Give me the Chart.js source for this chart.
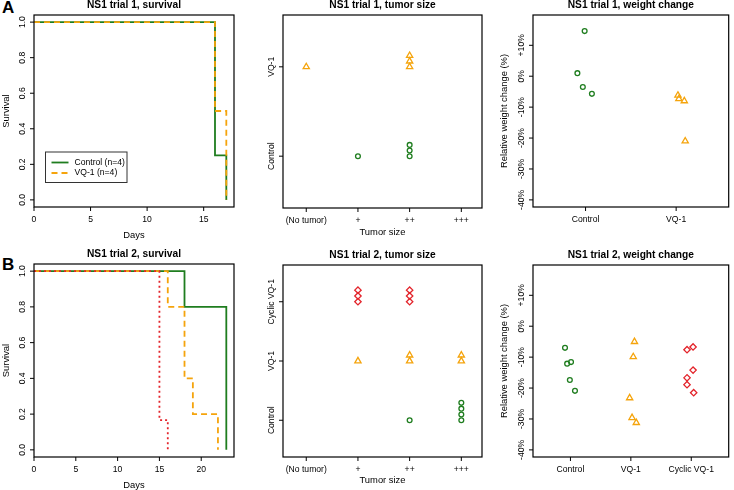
<!DOCTYPE html>
<html><head><meta charset="utf-8">
<script src="https://cdn.jsdelivr.net/npm/chart.js@4"></script>
<style>
body{margin:0;background:#fff;width:734px;height:490px;position:relative;overflow:hidden}
canvas{position:absolute}
.lbl{position:absolute;font:bold 17px "Liberation Sans",Arial,sans-serif;line-height:17px;color:#000}
</style></head><body>
<div class="lbl" style="left:2px;top:-1px">A</div>
<div class="lbl" style="left:2px;top:256px">B</div>
<canvas id="a1"></canvas><canvas id="a2"></canvas><canvas id="a3"></canvas>
<canvas id="b1"></canvas><canvas id="b2"></canvas><canvas id="b3"></canvas>
<script>
// ---------- data ----------
const survTicks = [0, 0.2, 0.4, 0.6, 0.8, 1.0];
const survTickLabels = ['0.0', '0.2', '0.4', '0.6', '0.8', '1.0'];
const dayTicks1 = [0, 5, 10, 15];
const dayTicks2 = [0, 5, 10, 15, 20];

// trial 1 survival (Kaplan-Meier steps: event days and survival after)
const t1CtrlDays = [0, 16, 17];
const t1CtrlSurv = [1, 0.25, 0];
const t1VqDays = [0, 16, 17];
const t1VqSurv = [1, 0.5, 0];
// trial 2 survival
const t2CtrlDays = [0, 18, 23];
const t2CtrlSurv = [1, 0.8, 0];
const t2VqDays = [0, 16, 18, 19, 22];
const t2VqSurv = [1, 0.8, 0.4, 0.2, 0];
const t2CycDays = [0, 15, 16];
const t2CycSurv = [1, 0.1667, 0];

const tumorCats = ['(No tumor)', '+', '++', '+++'];
const t1Groups = ['Control', 'VQ-1'];
const t2Groups = ['Control', 'VQ-1', 'Cyclic VQ-1'];
// tumor size per animal
const t1TumorCtrl = ['+', '++', '++', '++'];
const t1TumorVq = ['(No tumor)', '++', '++', '++'];
const t2TumorCtrl = ['++', '+++', '+++', '+++', '+++'];
const t2TumorVq = ['+', '++', '++', '+++', '+++'];
const t2TumorCyc = ['+', '+', '+', '++', '++', '++'];

// weight change (%) per animal, with horizontal jitter
const wtTicks = [10, 0, -10, -20, -30, -40];
const wtTickLabels = ['+10%', '0%', '-10%', '-20%', '-30%', '-40%'];
const t1WtCtrl = [14.6, 1.0, -3.5, -5.7];
const t1WtCtrlJit = [-0.01, -0.09, -0.03, 0.07];
const t1WtVq = [-6.2, -7.3, -8.0, -21.0];
const t1WtVqJit = [0.02, 0.03, 0.09, 0.10];
const t2WtCtrl = [-7.0, -12.1, -11.6, -17.4, -20.9];
const t2WtCtrlJit = [-0.09, -0.055, 0.01, -0.01, 0.075];
const t2WtVq = [-5.0, -9.9, -23.2, -29.6, -31.2];
const t2WtVqJit = [0.06, 0.04, -0.02, 0.02, 0.09];
const t2WtCyc = [-7.6, -6.7, -14.2, -16.7, -18.9, -21.5];
const t2WtCycJit = [-0.07, 0.03, 0.03, -0.07, -0.07, 0.04];

// ---------- styling ----------
const FONT = '"Liberation Sans", Arial, Helvetica, sans-serif';
const GREEN = '#1f7d1f', ORANGE = '#f5a40c', RED = '#e3242b';
const TICK_FS = 8.6, AXT_FS = 9.4, TITLE_FS = 10.2;

function kmPoints(days, surv) { return days.map((d, i) => ({x: d, y: surv[i]})); }
function tumorPoints(cats, groupIdx, step) {
  const cnt = {};
  return cats.map(c => {
    const k = cnt[c] || 0; cnt[c] = k + 1;
    return {x: tumorCats.indexOf(c) + 1, y: groupIdx + k * step};
  });
}
function wtPoints(vals, jit, groupIdx) { return vals.map((v, i) => ({x: groupIdx + jit[i], y: v})); }

const rPlot = {
  id: 'rPlot',
  afterDraw(chart, args, o) {
    const ctx = chart.ctx, a = chart.chartArea, xs = chart.scales.x, ys = chart.scales.y;
    ctx.save();
    ctx.fillStyle = '#000'; ctx.strokeStyle = '#000';
    // box
    ctx.lineWidth = 1.2;
    ctx.strokeRect(a.left, a.top, a.right - a.left, a.bottom - a.top);
    // x ticks
    ctx.lineWidth = 1;
    ctx.font = TICK_FS + 'px ' + FONT;
    ctx.textAlign = 'center'; ctx.textBaseline = 'middle';
    o.xTicks.forEach((v, i) => {
      const px = xs.getPixelForValue(v);
      ctx.beginPath(); ctx.moveTo(px, a.bottom); ctx.lineTo(px, a.bottom + 4); ctx.stroke();
      ctx.fillText(o.xLabels[i], px, a.bottom + 13);
    });
    // y ticks
    o.yTicks.forEach((v, i) => {
      const py = ys.getPixelForValue(v);
      ctx.beginPath(); ctx.moveTo(a.left - 4, py); ctx.lineTo(a.left, py); ctx.stroke();
      ctx.save(); ctx.translate(a.left - 11, py); ctx.rotate(-Math.PI / 2);
      ctx.fillText(o.yLabels[i], 0, 0); ctx.restore();
    });
    // axis titles
    ctx.font = AXT_FS + 'px ' + FONT;
    if (o.xTitle) ctx.fillText(o.xTitle, (a.left + a.right) / 2, a.bottom + o.xTitleOff);
    if (o.yTitle) {
      ctx.save(); ctx.translate(a.left - o.yTitleOff, (a.top + a.bottom) / 2); ctx.rotate(-Math.PI / 2);
      ctx.fillText(o.yTitle, 0, 0); ctx.restore();
    }
    // title
    ctx.font = 'bold ' + TITLE_FS + 'px ' + FONT;
    ctx.fillText(o.title, (a.left + a.right) / 2, a.top - 10);
    // legend
    if (o.legend) {
      const L = o.legend;
      ctx.lineWidth = 1;
      ctx.strokeStyle = '#333';
      ctx.strokeRect(L.x, L.y, L.w, L.h);
      ctx.font = TICK_FS + 'px ' + FONT;
      ctx.textAlign = 'left';
      L.items.forEach((it, i) => {
        const yy = L.y + L.pad + i * L.gap;
        ctx.strokeStyle = it.color; ctx.lineWidth = 1.8; ctx.setLineDash(it.dash || []);
        ctx.beginPath(); ctx.moveTo(L.x + 6, yy); ctx.lineTo(L.x + 23, yy); ctx.stroke();
        ctx.setLineDash([]);
        ctx.fillStyle = '#000';
        ctx.fillText(it.label, L.x + 29, yy);
      });
    }
    ctx.restore();
  }
};

function makePanel(id, cv, area, scales, datasets, opts) {
  const el = document.getElementById(id);
  el.width = cv.w; el.height = cv.h;
  el.style.left = cv.x + 'px'; el.style.top = cv.y + 'px';
  el.style.width = cv.w + 'px'; el.style.height = cv.h + 'px';
  // later datasets drawn on top (as in the R figure)
  datasets.forEach((d, i) => { d.order = datasets.length - i; });
  return new Chart(el, {
    type: 'scatter',
    data: {datasets},
    options: {
      responsive: false, animation: false, devicePixelRatio: 1, events: [],
      layout: {padding: {left: area.l - cv.x, right: cv.x + cv.w - area.r, top: area.t - cv.y, bottom: cv.y + cv.h - area.b}},
      scales: {
        x: {type: 'linear', display: false, min: scales.x[0], max: scales.x[1]},
        y: {type: 'linear', display: false, min: scales.y[0], max: scales.y[1]}
      },
      plugins: {legend: {display: false}, tooltip: {enabled: false}, rPlot: opts}
    },
    plugins: [rPlot]
  });
}

function kmDs(days, surv, color, dash) {
  return {data: kmPoints(days, surv), showLine: true, stepped: 'before', borderColor: color,
    borderWidth: 1.8, borderDash: dash || [], pointRadius: 0, fill: false};
}
function ptDs(data, color, style, r) {
  return {data, borderColor: color, backgroundColor: 'rgba(0,0,0,0)', pointStyle: style,
    pointRadius: r, pointBorderWidth: 1.3, showLine: false};
}

// Panel A1
makePanel('a1', {x: 0, y: 0, w: 245, h: 245}, {l: 34, r: 234, t: 15, b: 207},
  {x: [0, 17.68], y: [-0.04, 1.04]},
  [kmDs(t1CtrlDays, t1CtrlSurv, GREEN), kmDs(t1VqDays, t1VqSurv, ORANGE, [6, 4])],
  {title: 'NS1 trial 1, survival', xTicks: dayTicks1, xLabels: dayTicks1.map(String),
   yTicks: survTicks, yLabels: survTickLabels, xTitle: 'Days', xTitleOff: 28, yTitle: 'Survival', yTitleOff: 28,
   legend: {x: 45.5, y: 152, w: 81.5, h: 30.5, pad: 10.5, gap: 10.5,
     items: [{label: 'Control (n=4)', color: GREEN}, {label: 'VQ-1 (n=4)', color: ORANGE, dash: [6, 4]}]}});

// Panel A2
makePanel('a2', {x: 245, y: 0, w: 245, h: 245}, {l: 283, r: 482, t: 15, b: 208},
  {x: [0.55, 4.4], y: [0.42, 2.58]},
  [ptDs(tumorPoints(t1TumorCtrl, 1, 0.063), GREEN, 'circle', 2.4),
   ptDs(tumorPoints(t1TumorVq, 2, 0.063), ORANGE, 'triangle', 3.6)],
  {title: 'NS1 trial 1, tumor size', xTicks: [1, 2, 3, 4], xLabels: tumorCats,
   yTicks: [1, 2], yLabels: t1Groups, xTitle: 'Tumor size', xTitleOff: 24});

// Panel A3
makePanel('a3', {x: 490, y: 0, w: 244, h: 245}, {l: 533, r: 732, t: 15, b: 207},
  {x: [0.42, 2.58], y: [-42.3, 19.8]},
  [ptDs(wtPoints(t1WtCtrl, t1WtCtrlJit, 1), GREEN, 'circle', 2.4),
   ptDs(wtPoints(t1WtVq, t1WtVqJit, 2), ORANGE, 'triangle', 3.6)],
  {title: 'NS1 trial 1, weight change', xTicks: [1, 2], xLabels: t1Groups,
   yTicks: wtTicks, yLabels: wtTickLabels, yTitle: 'Relative weight change (%)', yTitleOff: 29});

// Panel B1
makePanel('b1', {x: 0, y: 245, w: 245, h: 245}, {l: 34, r: 234, t: 264, b: 457},
  {x: [0, 23.92], y: [-0.04, 1.04]},
  [kmDs(t2CtrlDays, t2CtrlSurv, GREEN), kmDs(t2VqDays, t2VqSurv, ORANGE, [6, 4]), kmDs(t2CycDays, t2CycSurv, RED, [2, 3])],
  {title: 'NS1 trial 2, survival', xTicks: dayTicks2, xLabels: dayTicks2.map(String),
   yTicks: survTicks, yLabels: survTickLabels, xTitle: 'Days', xTitleOff: 28, yTitle: 'Survival', yTitleOff: 28,
   legend: {x: 42.5, y: 401.5, w: 99, h: 40, pad: 10, gap: 11,
     items: [{label: 'Control (n=5)', color: GREEN}, {label: 'VQ-1 (n=5)', color: ORANGE, dash: [6, 4]},
             {label: 'Cyclic VQ-1 (n=6)', color: RED, dash: [2, 3]}]}});

// Panel B2
makePanel('b2', {x: 245, y: 245, w: 245, h: 245}, {l: 283, r: 482, t: 265, b: 457},
  {x: [0.55, 4.4], y: [0.38, 3.62]},
  [ptDs(tumorPoints(t2TumorCtrl, 1, 0.098), GREEN, 'circle', 2.4),
   ptDs(tumorPoints(t2TumorVq, 2, 0.098), ORANGE, 'triangle', 3.6),
   ptDs(tumorPoints(t2TumorCyc, 3, 0.098), RED, 'rectRot', 3.2)],
  {title: 'NS1 trial 2, tumor size', xTicks: [1, 2, 3, 4], xLabels: tumorCats,
   yTicks: [1, 2, 3], yLabels: t2Groups, xTitle: 'Tumor size', xTitleOff: 23});

// Panel B3
makePanel('b3', {x: 490, y: 245, w: 244, h: 245}, {l: 533, r: 732, t: 265, b: 457},
  {x: [0.38, 3.62], y: [-42.3, 19.8]},
  [ptDs(wtPoints(t2WtCtrl, t2WtCtrlJit, 1), GREEN, 'circle', 2.4),
   ptDs(wtPoints(t2WtVq, t2WtVqJit, 2), ORANGE, 'triangle', 3.6),
   ptDs(wtPoints(t2WtCyc, t2WtCycJit, 3), RED, 'rectRot', 3.2)],
  {title: 'NS1 trial 2, weight change', xTicks: [1, 2, 3], xLabels: t2Groups,
   yTicks: wtTicks, yLabels: wtTickLabels, yTitle: 'Relative weight change (%)', yTitleOff: 29});
</script>
</body></html>
